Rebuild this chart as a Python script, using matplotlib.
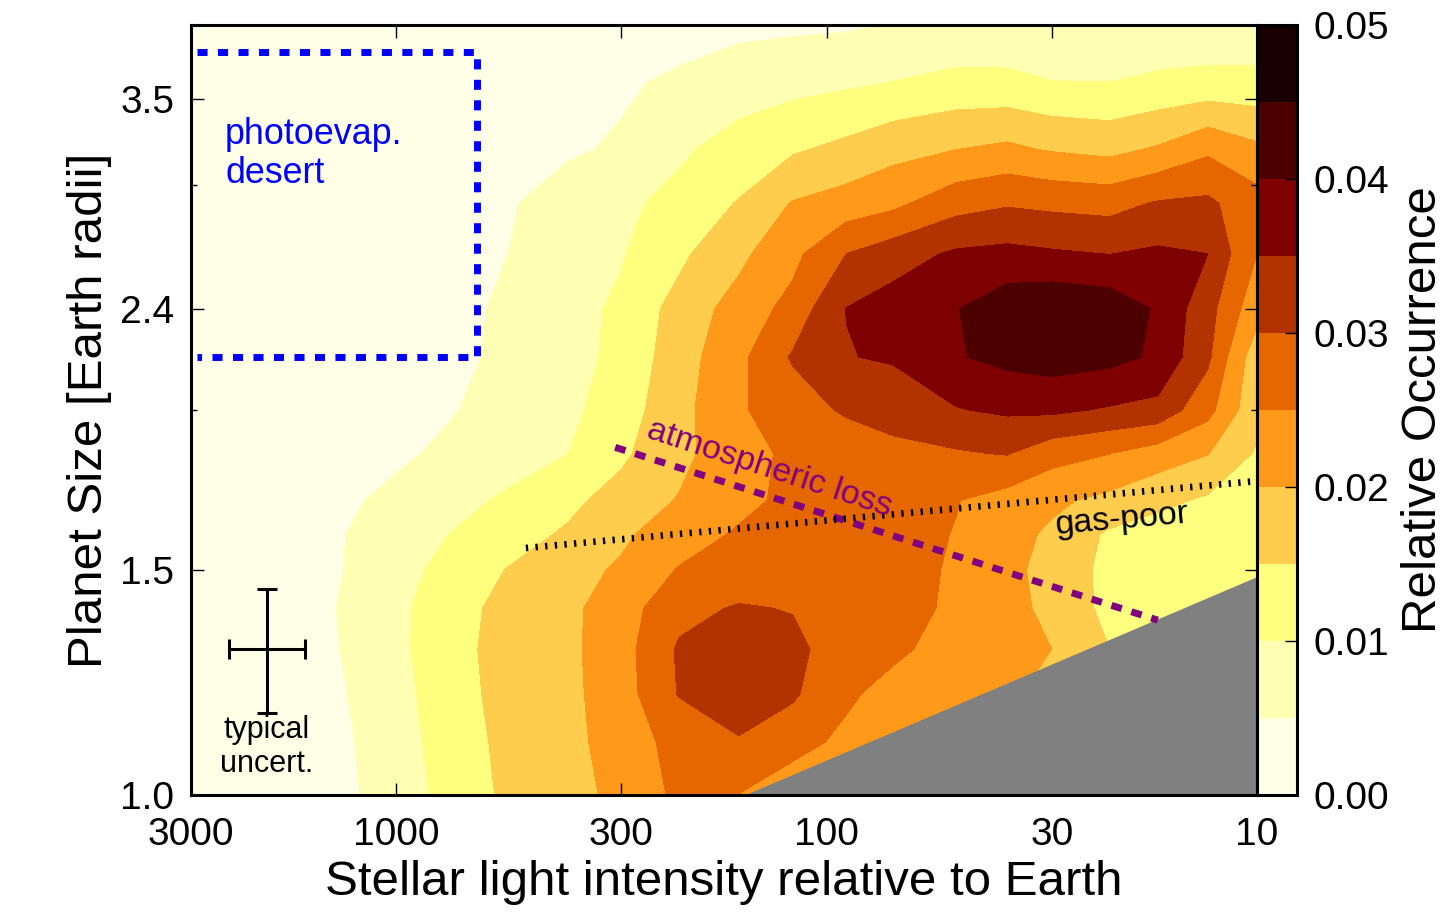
import numpy as np
import matplotlib
matplotlib.use("Agg")
import matplotlib.pyplot as plt
from matplotlib.ticker import FixedLocator, FixedFormatter, NullLocator, NullFormatter

plt.rcParams['font.family'] = ['Liberation Sans', 'DejaVu Sans']

# grid columns: stellar light intensity relative to Earth
insolation = [3000, 2000, 1400, 1000, 750, 550, 400, 300, 220, 160,
              120, 90, 70, 50, 38, 30, 22, 17, 13, 10]
# grid rows: planet size [Earth radii]
radius = [1.0, 1.1, 1.2, 1.3, 1.4, 1.5, 1.6, 1.7, 1.85, 2.0, 2.2, 2.4,
          2.65, 2.9, 3.2, 3.6, 4.0]

# relative occurrence (x 1e-3), one row per radius
occurrence = [
    [1.0, 2.0, 3.0, 7.3, 11.5, 15.9, 18.3, 21.1, 26.0, 24.9, 22.0, 22.0, 22.0, 21.0, 20.0, 19.0, 17.0, 15.0, 13.0, 12.0],
    [1.0, 2.2, 3.4, 7.6, 12.2, 16.2, 18.5, 22.0, 26.7, 29.5, 26.8, 24.0, 22.0, 21.0, 20.0, 19.0, 17.0, 15.0, 13.0, 12.0],
    [1.0, 2.4, 4.0, 8.0, 12.9, 16.5, 18.7, 22.5, 30.3, 33.5, 30.8, 25.8, 23.5, 21.5, 20.5, 19.0, 17.0, 15.0, 13.0, 12.0],
    [1.0, 2.5, 4.5, 8.6, 13.3, 16.6, 18.8, 22.8, 30.6, 34.0, 31.0, 28.2, 25.9, 23.4, 21.6, 20.0, 15.0, 13.5, 12.5, 12.0],
    [1.0, 2.5, 4.8, 8.7, 12.9, 16.4, 18.8, 22.4, 28.5, 30.4, 29.8, 28.5, 27.0, 24.2, 21.7, 18.8, 13.8, 12.3, 12.0, 12.0],
    [1.0, 2.5, 4.3, 8.1, 11.5, 15.2, 17.9, 20.7, 25.3, 27.0, 28.0, 28.0, 27.2, 24.4, 21.5, 18.2, 13.8, 12.3, 12.0, 12.3],
    [1.0, 2.3, 4.3, 7.4, 10.05, 12.7, 15.6, 19.0, 22.6, 25.5, 27.0, 27.5, 27.0, 24.8, 21.9, 19.2, 14.3, 12.5, 12.2, 13.0],
    [1.0, 2.2, 3.8, 6.0, 8.2, 10.7, 13.75, 16.8, 20.3, 23.7, 26.0, 27.0, 26.8, 25.2, 23.1, 21.0, 18.8, 16.4, 14.3, 13.5],
    [1.0, 2.0, 3.4, 4.2, 5.8, 7.9, 9.9, 14.0, 18.6, 22.9, 26.0, 27.3, 28.5, 29.5, 30.3, 27.0, 25.1, 22.7, 20.2, 14.5],
    [1.0, 1.8, 3.0, 4.2, 4.7, 6.4, 8.75, 12.4, 18.2, 24.3, 27.7, 30.6, 32.3, 34.7, 35.8, 36.0, 34.5, 33.5, 26.7, 16.5],
    [1.0, 1.5, 2.5, 3.5, 4.3, 5.5, 8.1, 11.2, 17.5, 23.6, 30.5, 34.8, 35.5, 39.5, 41.5, 42.5, 41.5, 39.3, 31.0, 17.0],
    [1.0, 1.5, 2.5, 3.4, 4.2, 5.4, 8.0, 10.9, 16.7, 21.9, 26.5, 35.1, 37.2, 39.8, 43.0, 44.0, 43.0, 39.5, 32.0, 22.0],
    [1.0, 1.5, 2.5, 3.3, 4.0, 5.0, 7.4, 9.6, 13.9, 18.7, 23.5, 30.0, 32.6, 35.7, 36.3, 35.6, 34.9, 35.8, 35.0, 25.0],
    [1.0, 1.5, 2.4, 3.2, 3.9, 4.6, 6.5, 8.7, 11.6, 15.3, 20.3, 22.0, 23.8, 28.0, 29.5, 28.8, 28.2, 30.5, 31.0, 27.0],
    [1.0, 1.5, 2.3, 3.0, 3.5, 4.0, 4.5, 5.4, 9.0, 12.1, 14.3, 16.2, 18.3, 19.9, 21.0, 19.5, 18.5, 20.5, 24.0, 21.0],
    [0.8, 1.2, 1.8, 2.3, 2.8, 3.3, 3.8, 4.5, 5.6, 7.3, 8.4, 9.3, 10.2, 11.5, 11.3, 10.2, 10.1, 11.0, 11.5, 11.5],
    [0.5, 0.8, 1.2, 1.5, 1.8, 2.1, 2.4, 2.8, 3.5, 3.9, 4.1, 4.4, 5.1, 5.8, 6.2, 6.0, 6.0, 6.3, 6.5, 6.5],
]

contour_levels = [0.0, 0.005, 0.01, 0.015, 0.02, 0.025, 0.03, 0.035, 0.04, 0.045, 0.05]
cbar_ticks = [0.0, 0.01, 0.02, 0.03, 0.04, 0.05]
cbar_tick_labels = ['0.00', '0.01', '0.02', '0.03', '0.04', '0.05']

x_ticks = [3000, 1000, 300, 100, 30, 10]
x_tick_labels = ['3000', '1000', '300', '100', '30', '10']
y_ticks = [1.0, 1.5, 2.4, 3.5]
y_tick_labels = ['1.0', '1.5', '2.4', '3.5']
y_minor_ticks = [2.0, 3.0]

# detection completeness cut (grey wedge)
cut_s = [154, 10, 10, 154]
cut_r = [1.0, 1.48, 0.9, 0.9]

# photoevaporation desert box
desert_s = [2900, 650, 650, 2900]
desert_r = [3.81, 3.81, 2.20, 2.20]

# atmospheric loss line and gas-poor boundary
loss_s = [310, 17]
loss_r = [1.87, 1.37]
gas_s = [500, 10]
gas_r = [1.56, 1.76]

# typical uncertainty cross
uncert_center = (2000, 1.3)
uncert_s = [1630, 2450]
uncert_r = [1.16, 1.45]


fig = plt.figure(figsize=(14.49, 9.15), dpi=100)
ax = fig.add_axes([191 / 1449, 1 - 795 / 915, 1066 / 1449, 770 / 915])
cax = fig.add_axes([1257 / 1449, 1 - 795 / 915, 40 / 1449, 770 / 915])

S, R = np.meshgrid(insolation, radius)
Z = np.array(occurrence) * 1e-3
cf = ax.contourf(S, R, Z, levels=contour_levels, cmap='afmhot_r', zorder=0)

ax.set_xscale('log')
ax.set_yscale('log')
ax.set_xlim(3000, 10)
ax.set_ylim(1.0, 4.0)

ax.fill(cut_s, cut_r, color='#808080', lw=0, zorder=2)

ax.plot(desert_s, desert_r, color='blue', lw=5, ls=(0, (1.45, 1.5)),
        dash_capstyle='butt', zorder=3)
ax.plot(loss_s, loss_r, color='purple', lw=5, ls=(0, (1.55, 1.45)),
        dash_capstyle='butt', zorder=3)
ax.plot(gas_s, gas_r, color='black', lw=4.8, ls=(0, (0.35, 1.1)),
        dash_capstyle='butt', zorder=3)

cs, cr = uncert_center
ax.errorbar([cs], [cr], xerr=[[cs - uncert_s[0]], [uncert_s[1] - cs]],
            yerr=[[cr - uncert_r[0]], [uncert_r[1] - cr]], fmt='none',
            ecolor='black', elinewidth=2.2, capsize=7.5, capthick=2.2, zorder=4)

ax.text(2500, 3.228, 'photoevap.', color='blue', fontsize=25.8, ha='left', va='baseline', zorder=5)
ax.text(2500, 3.01, 'desert', color='blue', fontsize=25.8, ha='left', va='baseline', zorder=5)
ax.text(2000, 1.108, 'typical', color='black', fontsize=22, ha='center', va='baseline', zorder=5)
ax.text(2000, 1.042, 'uncert.', color='black', fontsize=22, ha='center', va='baseline', zorder=5)
ax.text(136, 1.80, 'atmospheric loss', color='purple', fontsize=24.6, rotation=-18,
        rotation_mode='anchor', ha='center', va='center', zorder=5)
ax.text(20.6, 1.642, 'gas-poor', color='black', fontsize=24.5, rotation=5,
        rotation_mode='anchor', ha='center', va='center', zorder=5)

ax.xaxis.set_major_locator(FixedLocator(x_ticks))
ax.xaxis.set_major_formatter(FixedFormatter(x_tick_labels))
ax.xaxis.set_minor_locator(NullLocator())
ax.yaxis.set_major_locator(FixedLocator(y_ticks))
ax.yaxis.set_major_formatter(FixedFormatter(y_tick_labels))
ax.yaxis.set_minor_locator(FixedLocator(y_minor_ticks))
ax.yaxis.set_minor_formatter(NullFormatter())

ax.tick_params(which='both', direction='in', top=True, right=True, width=1)
ax.tick_params(which='major', length=9)
ax.tick_params(which='minor', length=4)
ax.tick_params(axis='x', labelsize=28, pad=16)
ax.tick_params(axis='y', labelsize=28, pad=12)
for sp in ax.spines.values():
    sp.set_linewidth(2.2)

ax.set_xlabel('Stellar light intensity relative to Earth', fontsize=35.5, labelpad=5)
ax.set_ylabel('Planet Size [Earth radii]', fontsize=35.5, labelpad=6)

cbar = fig.colorbar(cf, cax=cax, ticks=cbar_ticks)
cbar.ax.set_yticklabels(cbar_tick_labels)
cbar.ax.minorticks_off()
cbar.ax.tick_params(direction='in', length=9, width=1, labelsize=28, pad=12)
cbar.outline.set_linewidth(2.2)
cbar.set_label('Relative Occurrence', fontsize=35.5, labelpad=8)

fig.savefig('out.png', dpi=100)
